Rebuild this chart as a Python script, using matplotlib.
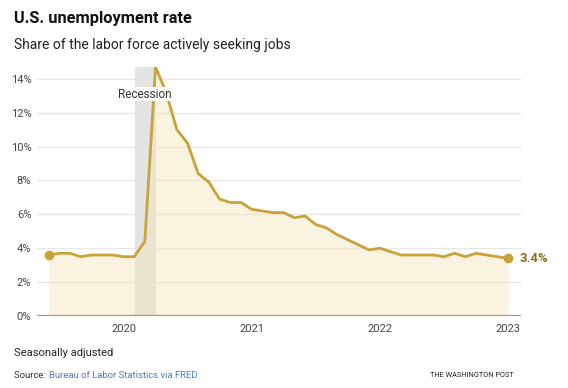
import matplotlib.pyplot as plt

# monthly unemployment rate, Jun 2019 - Jan 2023
rate = [3.6, 3.7, 3.7, 3.5, 3.6, 3.6, 3.6,
        3.5, 3.5, 4.4, 14.7, 13.2, 11.0, 10.2, 8.4, 7.9, 6.9, 6.7, 6.7,
        6.3, 6.2, 6.1, 6.1, 5.8, 5.9, 5.4, 5.2, 4.8, 4.5, 4.2, 3.9,
        4.0, 3.8, 3.6, 3.6, 3.6, 3.6, 3.5, 3.7, 3.5, 3.7, 3.6, 3.5,
        3.4]
months = list(range(len(rate)))  # 0 = Jun 2019
year_pos = [7, 19, 31, 43]
year_labels = ["2020", "2021", "2022", "2023"]
recession = [8, 10]  # Feb 2020 - Apr 2020
yticks = [0, 2, 4, 6, 8, 10, 12, 14]

plt.rcParams['font.family'] = ['Roboto', 'DejaVu Sans']

gold = "#c9a23a"
fig = plt.figure(figsize=(5.68, 3.88), dpi=100)
ax = fig.add_axes([0.065, 0.1856, 0.852, 0.6418])

for y in yticks[1:]:
    ax.axhline(y, color="#e6e6e6", lw=0.9, zorder=0)
ax.axvspan(recession[0] + 0.05, recession[1] + 0.05, color="#e3e3e3", lw=0, zorder=1)
ax.fill_between(months, rate, 0, color="#f3e5b8", alpha=0.45, lw=0, zorder=2)
ax.plot(months, rate, color=gold, lw=2.0, zorder=3, solid_joinstyle="round")
ax.plot([months[0], months[-1]], [rate[0], rate[-1]], "o", color=gold, ms=6, zorder=4)
ax.axhline(0, color="#999999", lw=1.6, zorder=5)

ax.text(months[-1] + 1.1, rate[-1], "3.4%", color="#8c6e1c", fontsize=9.5,
        fontweight="bold", va="center", ha="left")
ax.text(9, 13.1, "Recession", fontsize=8.5, color="#333333", ha="center", va="center",
        bbox=dict(facecolor="white", edgecolor="none", pad=0.5), zorder=6)

ax.set_xlim(-1.1, 44.2)
ax.set_ylim(0, 14.7)
ax.set_yticks(yticks)
ax.set_yticklabels([f"{v}%" for v in yticks], fontsize=8, color="#444444")
ax.set_xticks(year_pos)
ax.set_xticklabels(year_labels, fontsize=8, color="#444444")
ax.tick_params(axis="y", length=0, pad=4)
ax.tick_params(axis="x", length=0, pad=6)
for s in ax.spines.values():
    s.set_visible(False)

fig.text(0.025, 0.953, "U.S. unemployment rate", fontsize=11.8, fontweight="bold",
         color="#111111", va="center")
fig.text(0.025, 0.885, "Share of the labor force actively seeking jobs", fontsize=10,
         color="#222222", va="center")
fig.text(0.025, 0.09, "Seasonally adjusted", fontsize=8, color="#222222", va="center")
fig.text(0.025, 0.033, "Source: ", fontsize=6.8, color="#333333", va="center")
fig.text(0.086, 0.033, "Bureau of Labor Statistics via FRED", fontsize=6.8,
         color="#4a7dc9", va="center")
fig.text(0.905, 0.033, "THE WASHINGTON POST", fontsize=5.3, color="#222222",
         va="center", ha="right")

fig.savefig("out.png", dpi=100)
